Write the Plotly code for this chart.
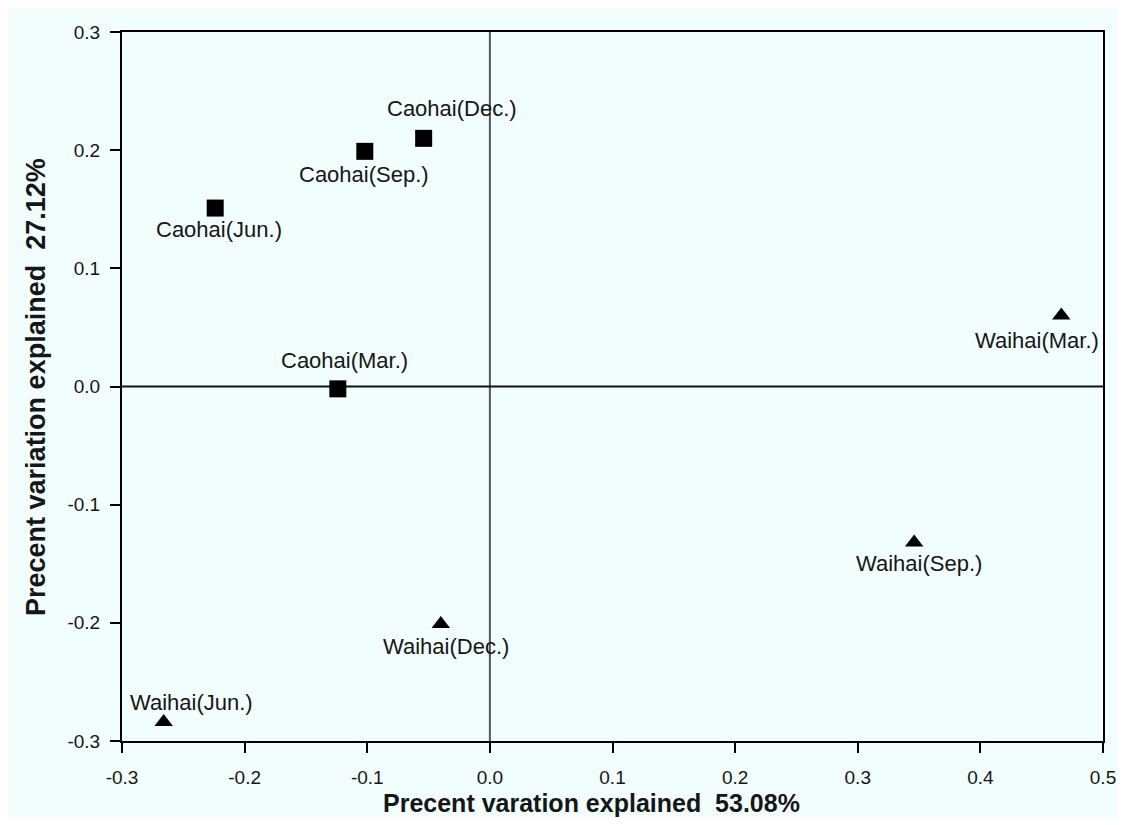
import plotly.graph_objects as go

caohai_labels = ["Caohai(Mar.)", "Caohai(Jun.)", "Caohai(Sep.)", "Caohai(Dec.)"]
caohai_x = [-0.124, -0.224, -0.102, -0.054]
caohai_y = [-0.002, 0.151, 0.199, 0.210]

waihai_labels = ["Waihai(Mar.)", "Waihai(Jun.)", "Waihai(Sep.)", "Waihai(Dec.)"]
waihai_x = [0.466, -0.266, 0.346, -0.040]
waihai_y = [0.060, -0.284, -0.132, -0.201]

x_ticks = [-0.3, -0.2, -0.1, 0.0, 0.1, 0.2, 0.3, 0.4, 0.5]
x_ticktext = ["-0.3", "-0.2", "-0.1", "0.0", "0.1", "0.2", "0.3", "0.4", "0.5"]
y_ticks = [-0.3, -0.2, -0.1, 0.0, 0.1, 0.2, 0.3]
y_ticktext = ["-0.3", "-0.2", "-0.1", "0.0", "0.1", "0.2", "0.3"]

x_title = "<b>Precent varation explained  53.08%</b>"
y_title = "<b>Precent variation explained  27.12%</b>"

# label placement (style only): side of marker and pixel nudges
caohai_side = ["top", "bottom", "bottom", "top"]
caohai_dx = [7, 4, -1, 28]
caohai_dy = [14, -7, -9, 15]
waihai_side = ["bottom", "top", "bottom", "bottom"]
waihai_dx = [-24, 28, 5, 5]
waihai_dy = [-10, 5, -7, -8]

font = "Liberation Sans, Arial, sans-serif"
bg = "#F2FDFE"
ink = "#161616"

fig = go.Figure()
fig.add_trace(go.Scatter(
    x=caohai_x, y=caohai_y, mode="markers", name="Caohai",
    marker=dict(symbol="square", size=17, color="black"),
    cliponaxis=False, showlegend=False))
fig.add_trace(go.Scatter(
    x=waihai_x, y=waihai_y, mode="markers", name="Waihai",
    marker=dict(symbol="triangle-up", size=16, color="black"),
    cliponaxis=False, showlegend=False))

for labels, xs, ys, sides, dxs, dys in [
    (caohai_labels, caohai_x, caohai_y, caohai_side, caohai_dx, caohai_dy),
    (waihai_labels, waihai_x, waihai_y, waihai_side, waihai_dx, waihai_dy),
]:
    for lab, xv, yv, side, dx, dy in zip(labels, xs, ys, sides, dxs, dys):
        fig.add_annotation(
            x=xv, y=yv, xref="x", yref="y", text=lab, showarrow=False,
            xanchor="center", yanchor="bottom" if side == "top" else "top",
            xshift=dx, yshift=dy,
            font=dict(family=font, size=22, color=ink))

fig.add_shape(type="line", xref="x", yref="paper", x0=0, x1=0, y0=0, y1=1,
              line=dict(color="#555555", width=2), layer="below")
fig.add_shape(type="line", xref="paper", yref="y", x0=0, x1=1, y0=0, y1=0,
              line=dict(color="#111111", width=2), layer="below")

fig.add_annotation(text=x_title, xref="paper", yref="paper", x=0.4787, y=-0.087,
                   xanchor="center", yanchor="middle", showarrow=False,
                   font=dict(family=font, size=25, color=ink))
fig.add_annotation(text=y_title, xref="paper", yref="paper", x=-0.0882, y=0.5,
                   xanchor="center", yanchor="middle", showarrow=False, textangle=-90,
                   font=dict(family=font, size=27, color=ink))

fig.update_layout(
    width=1110, height=809,
    margin=dict(l=114, r=15, t=24, b=76, autoexpand=False),
    paper_bgcolor=bg, plot_bgcolor=bg,
    font=dict(family=font, size=19, color=ink),
)
fig.update_xaxes(
    range=[-0.3, 0.5], tickvals=x_ticks, ticktext=x_ticktext, automargin=False,
    ticklabeloverflow="allow",
    showgrid=False, zeroline=False, showline=True, mirror=True,
    linecolor="black", linewidth=2, ticks="outside", ticklen=10, tickwidth=2,
    tickcolor="black", tickfont=dict(size=19, color=ink), ticklabelstandoff=8,
)
fig.update_yaxes(
    range=[-0.3, 0.3], tickvals=y_ticks, ticktext=y_ticktext, automargin=False,
    ticklabeloverflow="allow",
    showgrid=False, zeroline=False, showline=True, mirror=True,
    linecolor="black", linewidth=2, ticks="outside", ticklen=10, tickwidth=2,
    tickcolor="black", tickfont=dict(size=19, color=ink), ticklabelstandoff=6,
)

fig.write_html("out.html")
